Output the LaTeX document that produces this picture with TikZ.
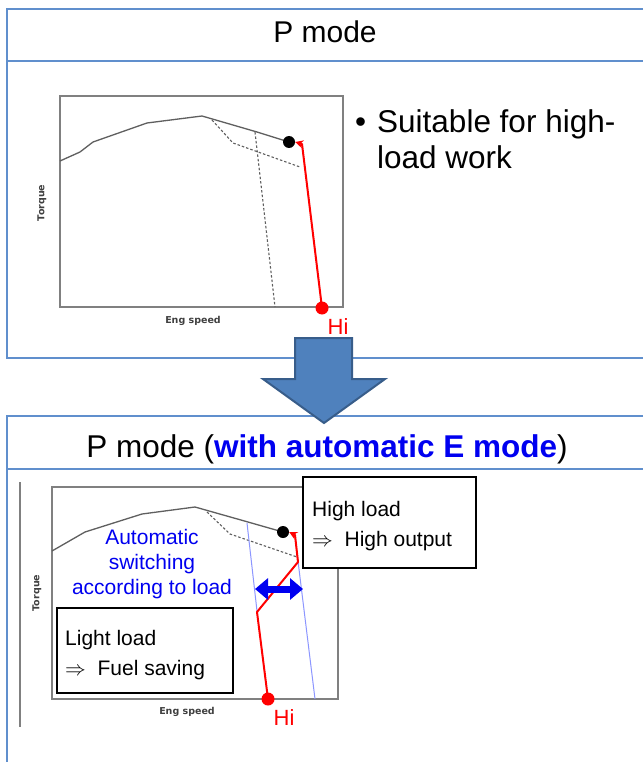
\documentclass[tikz,border=0pt]{standalone}
\usepackage{fontspec}
\setmainfont{Liberation Sans}
\newfontfamily\labelfont{DejaVu Sans}
\usetikzlibrary{arrows.meta}

\definecolor{panelblue}{RGB}{96,143,205}
\definecolor{arrowfill}{RGB}{79,129,189}
\definecolor{arrowedge}{RGB}{56,93,138}
\definecolor{framegray}{RGB}{128,128,128}
\definecolor{curvegray}{RGB}{95,95,95}
\definecolor{hired}{RGB}{255,0,0}
\definecolor{emode}{RGB}{0,0,240}
\definecolor{bandblue}{RGB}{140,150,255}

\tikzset{
  panelline/.style={draw=panelblue, line width=1.8pt},
  chartframe/.style={draw=framegray, line width=1.3pt},
  torquecurve/.style={draw=curvegray, line width=1.3pt, line join=round},
  limitcurve/.style={draw=curvegray, line width=1.1pt, dash pattern=on 2.5pt off 2pt},
  redpath/.style={draw=hired, line width=2pt, line join=round},
  bandline/.style={draw=bandblue, line width=1pt},
  axislabel/.style={font=\labelfont\bfseries\fontsize{9.5}{11}\selectfont, text=black!75},
  headtext/.style={font=\fontsize{30}{36}\selectfont},
  bullettext/.style={font=\fontsize{31.5}{36}\selectfont, anchor=base west, inner sep=0pt},
  boxtext/.style={font=\fontsize{21}{25}\selectfont, anchor=base west, inner sep=0pt},
  notebox/.style={draw=black, line width=1.2pt, fill=white},
  hitext/.style={font=\fontsize{22}{26}\selectfont, text=hired},
  opdot/.style={circle, fill=black, minimum size=12pt, inner sep=0pt},
  hidot/.style={circle, fill=hired, minimum size=13pt, inner sep=0pt},
}

\begin{document}
\begin{tikzpicture}[x=1pt, y=-1pt]
\useasboundingbox (0,0) rectangle (643,762);
\fill[white] (0,0) rectangle (643,762);

% ---------- upper panel : P mode ----------
\draw[panelline] (643,9) -- (7,9) -- (7,358) -- (643,358);
\draw[panelline] (7,61) -- (643,61);
\node[headtext, anchor=base] (titleP) at (325,43) {P mode};

% chart
\draw[chartframe] (60,96) rectangle (343,307);
\draw[torquecurve] (60,161) -- (80,152) -- (93,142) -- (147,123) -- (202,116) -- (257,132) -- (289,142);
\draw[limitcurve] (212,120) -- (233,143) -- (300,167);
\draw[limitcurve] (255,132) -- (275,307);
\node[axislabel, rotate=90] (torqueA) at (42,203) {Torque};
\node[axislabel] (speedA) at (193,321) {Eng speed};

\coordinate (hiA) at (322,308);
\coordinate (bendA) at (302,144);
\node[opdot] (ptA) at (289,142) {};
\draw[redpath, -{Stealth[length=8pt,width=8pt]}] (hiA) -- (bendA) -- (ptA.east);
\node[hidot] (dotA) at (hiA) {};
\node[hitext] (hiLabelA) at (338,327) {Hi};

% bullet text
\node[bullettext] (bullet) at (355,133) {\textbullet};
\node[bullettext] (suit1) at (377,133) {Suitable for high-};
\node[bullettext] (suit2) at (377,168) {load work};

% ---------- lower panel : P mode with automatic E mode ----------
\draw[panelline] (643,416) -- (7,416) -- (7,762);
\draw[panelline] (7,469) -- (643,469);
\node[headtext, font=\fontsize{31.5}{36}\selectfont, anchor=base] (titleE) at (327,457)
  {P mode (\textcolor{emode}{\bfseries with automatic E mode})};

\draw[draw=framegray, line width=1.2pt] (20,482) -- (20,727);

% chart
\draw[chartframe] (52,487) rectangle (338,699);
\draw[torquecurve] (52,551) -- (85,532) -- (142,514) -- (195,507) -- (248,522) -- (283,532);
\draw[limitcurve] (207,512) -- (230,534) -- (297,557);
\draw[bandline] (247,523) -- (257,611);
\draw[bandline] (297,553) -- (315,699);
\node[axislabel, rotate=90] (torqueB) at (37,593) {Torque};
\node[axislabel] (speedB) at (187,712) {Eng speed};

\coordinate (hiB) at (268,699);
\coordinate (lowB) at (257,612);
\coordinate (midB) at (298,562);
\coordinate (topB) at (295,535);
\node[opdot] (ptB) at (283,532) {};
\draw[redpath, -{Stealth[length=8pt,width=8pt]}] (hiB) -- (lowB) -- (midB) -- (topB) -- (ptB.east);
\node[hidot] (dotB) at (hiB) {};
\node[hitext] (hiLabelB) at (284,718) {Hi};

% switching arrow
\coordinate (swL) at (255,589);
\coordinate (swR) at (303,589);
\draw[draw=emode, line width=7pt, {Triangle[length=13pt,width=21pt]}-{Triangle[length=13pt,width=21pt]}] (swL) -- (swR);

\node[font=\fontsize{21}{25}\selectfont, text=emode, align=center] (auto) at (152,564)
  {Automatic\\switching\\according to load};

% note boxes
\draw[notebox] (57,608) rectangle (233,693);
\node[boxtext] (light1) at (65,645) {Light load};
\node[boxtext] (light2) at (65,675) {$\Rightarrow$\ \ Fuel saving};

\draw[notebox] (303,477) rectangle (476,568);
\node[boxtext] (high1) at (312,516) {High load};
\node[boxtext] (high2) at (312,546) {$\Rightarrow$\ \ High output};

% ---------- transition arrow ----------
\draw[fill=arrowfill, draw=arrowedge, line width=2pt, line join=miter]
  (295,338) -- (352,338) -- (352,379) -- (385,379) -- (324,423) -- (263,379) -- (295,379) -- cycle;
\end{tikzpicture}
\end{document}
